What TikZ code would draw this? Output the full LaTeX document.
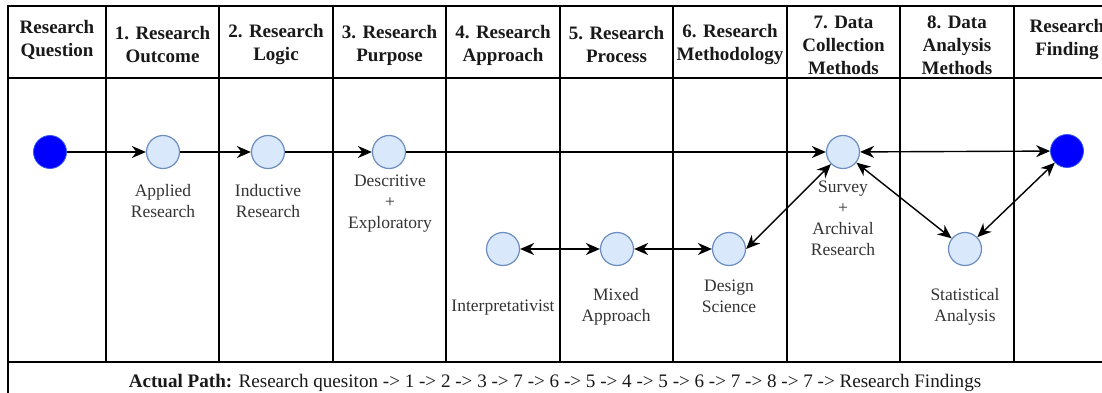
\documentclass[tikz,border=0pt]{standalone}
\usepackage{fontspec}
\setmainfont{Liberation Serif}
\newfontfamily\timesface{Liberation Serif}
\usetikzlibrary{arrows.meta}
\definecolor{stagefill}{HTML}{DAE8FC}
\definecolor{stagedraw}{HTML}{6C8EBF}
\definecolor{termfill}{HTML}{0000FF}
\definecolor{termdraw}{HTML}{3355EE}
\definecolor{lbltext}{HTML}{333333}
\begin{document}
\begin{tikzpicture}[x=1pt,y=-1pt,
  gridline/.style={line width=1.7pt, draw=black},
  hdr/.style={font=\timesface\fontsize{19}{23}\selectfont\bfseries, align=center, text=black!90, inner sep=0pt},
  lbl/.style={font=\timesface\fontsize{17.5}{21}\selectfont, align=center, text=lbltext, inner sep=0pt},
  stage/.style={circle, minimum size=33pt, inner sep=0pt, fill=stagefill, draw=stagedraw, line width=1.2pt},
  term/.style={circle, minimum size=33pt, inner sep=0pt, fill=termfill, draw=termdraw, line width=0.8pt},
  conn/.style={line width=1.4pt, draw=black},
  ahead/.tip={Stealth[length=14pt,width=12pt,inset=4.5pt]}
]
\useasboundingbox (0,0) rectangle (1102,393);
\clip (0,0) rectangle (1102,393);

% table grid
\draw[gridline] (8,400) -- (8,6) -- (1130,6);
\draw[gridline] (8,78) -- (1130,78);
\draw[gridline] (8,362) -- (1130,362);
\foreach \xx in {106,219,333,446,560,673,787,900,1014,1120}
  \draw[gridline] (\xx,6) -- (\xx,362);

% headers
\node[hdr] (h0) at (57,40) {Research\\Question};
\node[hdr] (h1) at (162.5,45) {1. Research\\Outcome};
\node[hdr] (h2) at (276,45) {2. Research\\Logic};
\node[hdr] (h3) at (389.5,45) {3. Research\\Purpose};
\node[hdr] (h4) at (503,45) {4. Research\\Approach};
\node[hdr] (h5) at (616.5,45) {5. Research\\Process};
\node[hdr] (h6) at (730,45) {6. Research\\Methodology};
\node[hdr] (h7) at (843.5,45) {7. Data\\Collection\\Methods};
\node[hdr] (h8) at (957,45) {8. Data\\Analysis\\Methods};
\node[hdr] (h9) at (1067,40) {Research\\Finding};

% circles
\node[term] (start) at (50,152) {};
\node[stage] (app) at (163,152) {};
\node[stage] (ind) at (268,152) {};
\node[stage] (des) at (389,152) {};
\node[stage] (int) at (503,249) {};
\node[stage] (mix) at (617,249) {};
\node[stage] (dsg) at (729,249) {};
\node[stage] (sur) at (843,152) {};
\node[stage] (sta) at (965,249) {};
\node[term] (fin) at (1067,151) {};

% labels
\node[lbl] (lapp) at (163,201) {Applied\\Research};
\node[lbl] (lind) at (268,201) {Inductive\\Research};
\node[lbl] (ldes) at (390,204) {Descritive\\+\\Exploratory};
\node[lbl] (lint) at (503,308) {Interpretativist};
\node[lbl] (lmix) at (616,307) {Mixed\\Approach};
\node[lbl] (ldsg) at (729,296) {Design\\Science};
\node[lbl] (lsur) at (843,218) {Survey\\+\\Archival\\Research};
\node[lbl] (lsta) at (965,307) {Statistical\\Analysis};

% connectors
\draw[conn,-ahead] (start) -- (app);
\draw[conn,-ahead] (app) -- (ind);
\draw[conn,-ahead] (ind) -- (des);
\draw[conn,-ahead] (des) -- (sur);
\draw[conn,ahead-ahead] (sur) -- (fin);
\draw[conn,ahead-ahead] (sur) -- (sta);
\draw[conn,ahead-ahead] (sta) -- (fin);
\draw[conn,ahead-ahead] (dsg.east) -- (sur.225);
\draw[conn,ahead-ahead] (mix) -- (dsg);
\draw[conn,ahead-ahead] (int) -- (mix);

% footer
\node[font=\timesface\fontsize{19.1}{23}\selectfont, anchor=base, inner sep=0pt, text=black!90] (foot) at (555,387)
  {\textbf{Actual Path:} Research quesiton -> 1 -> 2 -> 3 -> 7 -> 6 -> 5 -> 4 -> 5 -> 6 -> 7 -> 8 -> 7 -> Research Findings};
\end{tikzpicture}
\end{document}
